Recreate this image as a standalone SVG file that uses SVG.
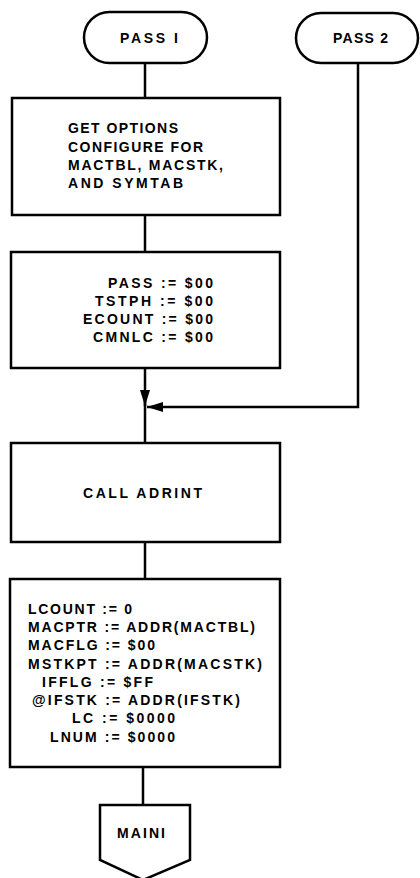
<svg xmlns="http://www.w3.org/2000/svg" width="420" height="878" viewBox="0 0 420 878">
<style>
.s{fill:#fff;stroke:#000;stroke-width:2.5;stroke-linejoin:miter}
.c{fill:none;stroke:#000;stroke-width:2.5}
text{font-family:"Liberation Sans",Arial,sans-serif;font-size:14px;font-weight:bold;fill:#000}
.m{text-anchor:middle}
.e{text-anchor:end}
</style>
<defs>
<marker id="ah" viewBox="0 0 16 10" refX="16" refY="5" markerWidth="16" markerHeight="10" markerUnits="userSpaceOnUse" orient="auto">
<path d="M0,0 L16,5 L0,10 Z" fill="#000"/>
</marker>
</defs>
<rect width="420" height="878" fill="#fff"/>
<g id="connectors">
<path class="c" d="M145,64 V98"/>
<path class="c" d="M145,215 V252"/>
<path class="c" d="M145,368 V406" marker-end="url(#ah)"/>
<path class="c" d="M145,400 V443"/>
<path class="c" d="M358,63 V407 H147" marker-end="url(#ah)"/>
<path class="c" d="M145,542 V579"/>
<path class="c" d="M143,767 V805"/>
</g>
<g id="pass1">
<rect class="s" x="84" y="12" width="123" height="51" rx="25.5"/>
<text x="120" y="43" textLength="58" lengthAdjust="spacing">PASS I</text>
</g>
<g id="pass2">
<rect class="s" x="296" y="13" width="122" height="50" rx="25"/>
<text x="333" y="43" textLength="55" lengthAdjust="spacing">PASS 2</text>
</g>
<g id="options">
<rect class="s" x="12" y="98" width="268" height="117"/>
<text x="68" y="133" textLength="110" lengthAdjust="spacing">GET OPTIONS</text>
<text x="68" y="152" textLength="135" lengthAdjust="spacing">CONFIGURE FOR</text>
<text x="68" y="170" textLength="155" lengthAdjust="spacing">MACTBL, MACSTK,</text>
<text x="68" y="188" textLength="115" lengthAdjust="spacing">AND SYMTAB</text>
</g>
<g id="init1">
<rect class="s" x="11" y="252" width="269" height="116"/>
<text x="108" y="288" textLength="105" lengthAdjust="spacing">PASS := $00</text>
<text x="95" y="306" textLength="118" lengthAdjust="spacing">TSTPH := $00</text>
<text x="83" y="324" textLength="130" lengthAdjust="spacing">ECOUNT := $00</text>
<text x="93" y="342" textLength="120" lengthAdjust="spacing">CMNLC := $00</text>
</g>
<g id="adrint">
<rect class="s" x="11" y="443" width="269" height="99"/>
<text x="83" y="498" textLength="119" lengthAdjust="spacing">CALL ADRINT</text>
</g>
<g id="init2">
<rect class="s" x="10" y="579" width="270" height="188"/>
<text x="28" y="614" textLength="104" lengthAdjust="spacing">LCOUNT := 0</text>
<text x="28" y="632" textLength="227" lengthAdjust="spacing">MACPTR := ADDR(MACTBL)</text>
<text x="28" y="650" textLength="127" lengthAdjust="spacing">MACFLG := $00</text>
<text x="28" y="669" textLength="234" lengthAdjust="spacing">MSTKPT := ADDR(MACSTK)</text>
<text x="42" y="687" textLength="111" lengthAdjust="spacing">IFFLG := $FF</text>
<text x="32" y="705" textLength="208" lengthAdjust="spacing">@IFSTK := ADDR(IFSTK)</text>
<text x="72" y="723" textLength="103" lengthAdjust="spacing">LC := $0000</text>
<text x="50" y="742" textLength="125" lengthAdjust="spacing">LNUM := $0000</text>
</g>
<g id="maini">
<path class="s" d="M100,805 H190 V860 L143,880 L100,860 Z"/>
<text x="117" y="838" textLength="48" lengthAdjust="spacing">MAINI</text>
</g>
</svg>
